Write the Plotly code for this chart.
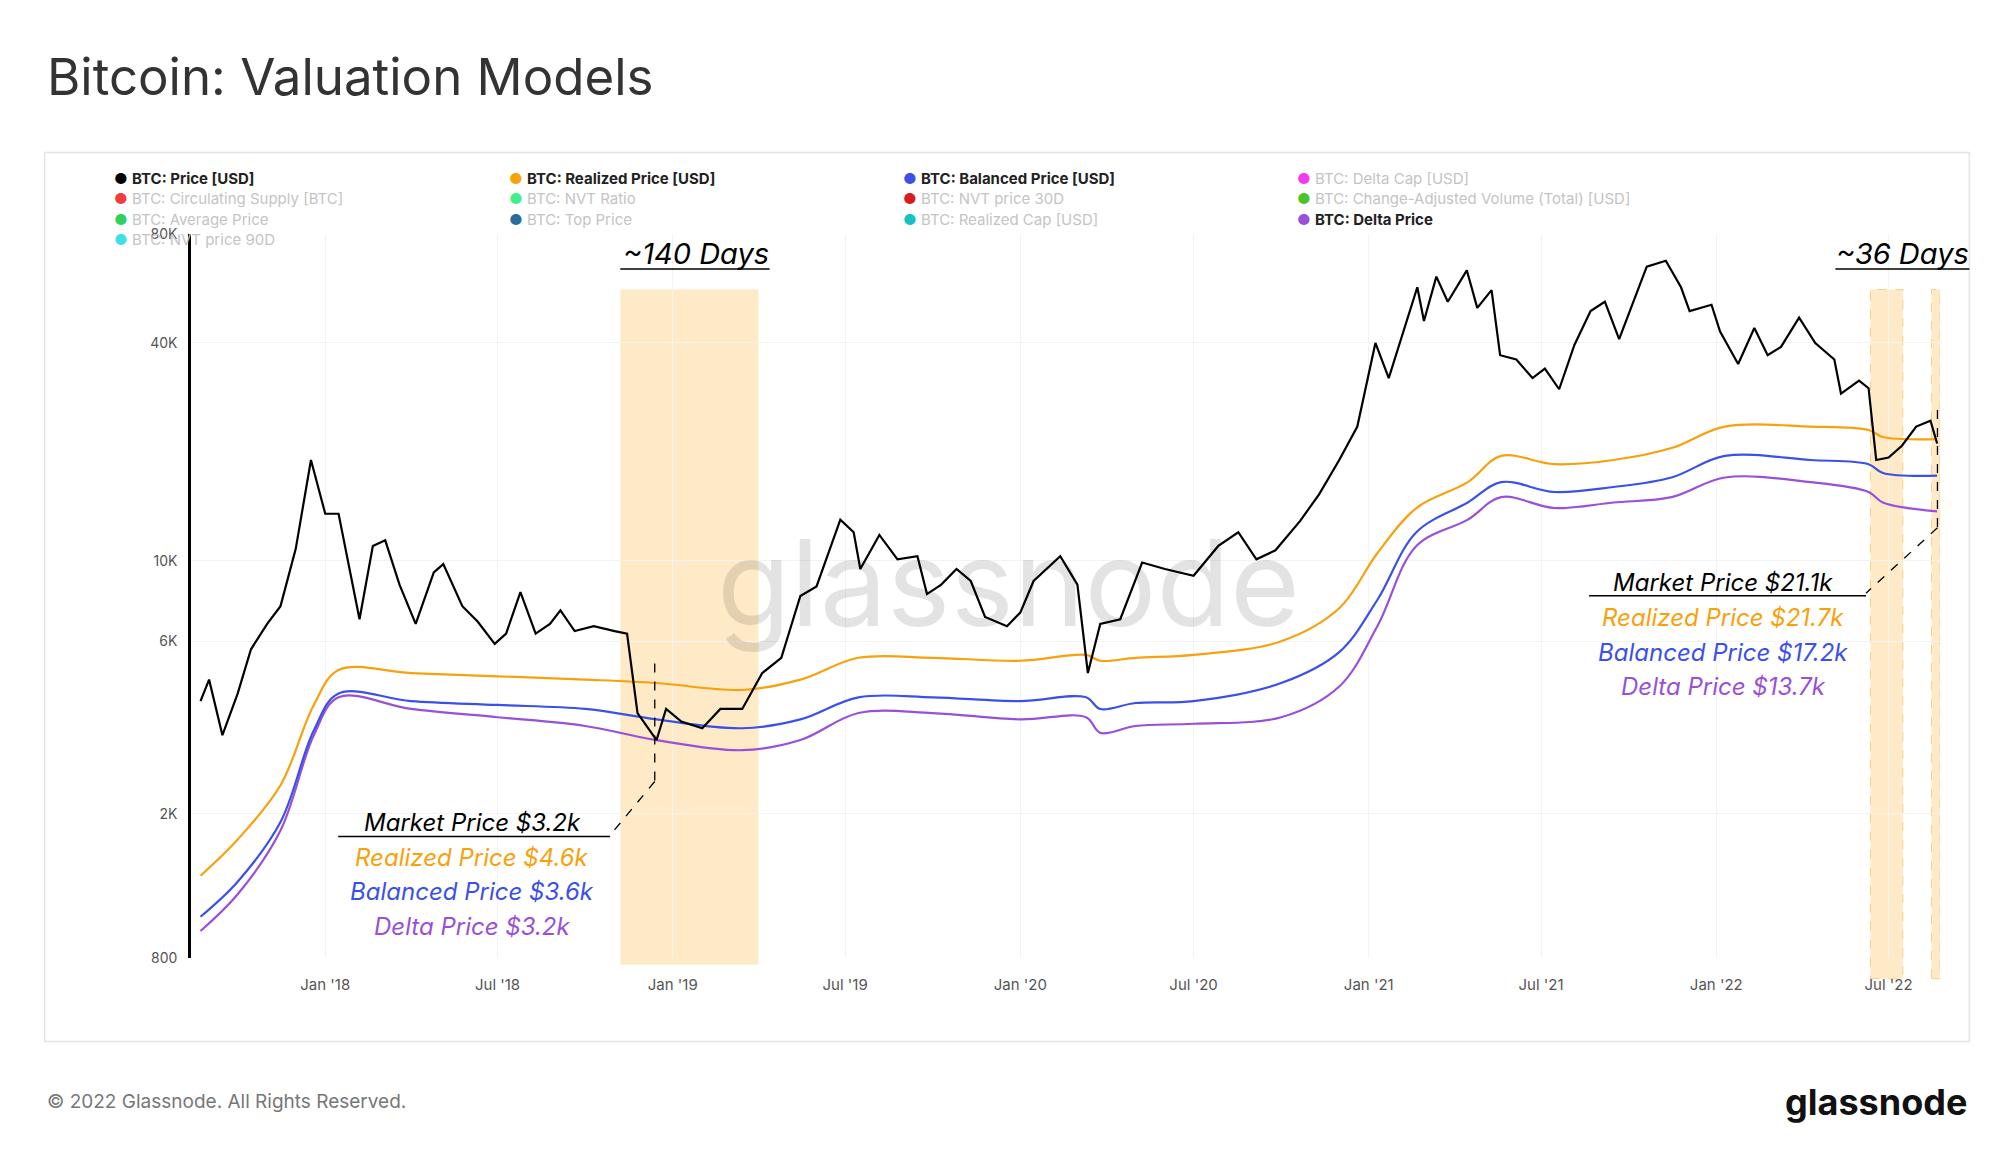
import plotly.graph_objects as go

price_dates = ["2017-08-23","2017-09-01","2017-09-15","2017-10-01","2017-10-15","2017-11-01","2017-11-15","2017-12-01","2017-12-17","2018-01-01","2018-01-15","2018-02-06","2018-02-20","2018-03-05","2018-03-20","2018-04-06","2018-04-25","2018-05-05","2018-05-25","2018-06-10","2018-06-28","2018-07-10","2018-07-25","2018-08-10","2018-08-25","2018-09-05","2018-09-20","2018-10-10","2018-11-01","2018-11-14","2018-11-25","2018-12-15","2018-12-25","2019-01-10","2019-02-01","2019-02-20","2019-03-15","2019-04-05","2019-04-25","2019-05-15","2019-06-01","2019-06-26","2019-07-10","2019-07-17","2019-08-06","2019-08-25","2019-09-15","2019-09-25","2019-10-10","2019-10-26","2019-11-10","2019-11-25","2019-12-18","2020-01-01","2020-01-15","2020-02-12","2020-03-01","2020-03-12","2020-03-25","2020-04-15","2020-05-08","2020-06-01","2020-07-01","2020-07-27","2020-08-17","2020-09-05","2020-09-25","2020-10-21","2020-11-10","2020-12-01","2020-12-20","2021-01-08","2021-01-22","2021-02-10","2021-02-21","2021-02-28","2021-03-13","2021-03-25","2021-04-14","2021-04-25","2021-05-10","2021-05-19","2021-06-05","2021-06-22","2021-07-05","2021-07-20","2021-08-05","2021-08-22","2021-09-06","2021-09-21","2021-10-05","2021-10-20","2021-11-09","2021-11-25","2021-12-04","2021-12-27","2022-01-05","2022-01-24","2022-02-10","2022-02-24","2022-03-10","2022-03-29","2022-04-15","2022-05-05","2022-05-12","2022-05-31","2022-06-10","2022-06-18","2022-07-01","2022-07-15","2022-07-30","2022-08-14","2022-08-21"]
price_usd = [4100,4700,3300,4300,5700,6700,7500,10800,19000,13500,13500,6900,11000,11400,8600,6700,9300,9800,7500,6800,5900,6300,8200,6300,6700,7300,6400,6600,6400,6300,3800,3200,3900,3600,3450,3900,3900,4900,5400,8000,8500,13000,12000,9500,11800,10100,10300,8100,8600,9500,8800,7000,6600,7200,8800,10300,8600,4900,6700,6900,9900,9500,9100,11000,12000,10100,10700,12900,15300,19000,23500,40000,32000,46000,57000,46000,61000,52000,63500,50000,56000,37000,36000,32000,34000,29800,39500,49000,52000,41000,51000,65000,67500,57000,49000,51000,43000,35000,44000,37000,39000,47000,40000,36000,29000,31500,30000,19000,19300,20800,23500,24400,21100]

model_dates = ["2017-08-23","2017-10-01","2017-11-15","2017-12-20","2018-01-15","2018-04-01","2018-07-01","2018-10-01","2018-12-15","2019-03-15","2019-05-15","2019-07-15","2019-10-01","2020-01-01","2020-03-10","2020-03-25","2020-05-01","2020-07-01","2020-10-01","2020-12-01","2021-01-10","2021-02-20","2021-04-15","2021-05-20","2021-07-15","2021-09-15","2021-11-15","2022-01-10","2022-04-10","2022-06-10","2022-06-25","2022-08-21"]
realized_usd = [1350,1700,2400,4000,5000,4900,4800,4700,4600,4400,4700,5400,5400,5300,5500,5300,5400,5500,6000,7400,10500,14000,16500,19500,18500,19000,20500,23500,23500,23000,22000,21700]
balanced_usd = [1040,1300,1900,3400,4300,4100,4000,3900,3650,3450,3650,4200,4200,4100,4200,3900,4050,4100,4600,5600,7800,12000,14500,16500,15500,16000,17000,19500,19000,18500,17500,17200]
delta_usd = [950,1200,1800,3300,4200,3900,3700,3500,3200,3000,3200,3800,3800,3650,3700,3350,3500,3550,3700,4500,6600,11000,13000,15000,14000,14500,15000,17000,16500,15500,14500,13700]

legend_items = [
    ("BTC: Price [USD]", "#000000", True), ("BTC: Realized Price [USD]", "#f7a10d", True),
    ("BTC: Balanced Price [USD]", "#3b50e8", True), ("BTC: Delta Cap [USD]", "#f03cf0", False),
    ("BTC: Circulating Supply [BTC]", "#ef3e3e", False), ("BTC: NVT Ratio", "#3ef08a", False),
    ("BTC: NVT price 30D", "#d81b1b", False), ("BTC: Change-Adjusted Volume (Total) [USD]", "#4cc22b", False),
    ("BTC: Average Price", "#2ed060", False), ("BTC: Top Price", "#276e9c", False),
    ("BTC: Realized Cap [USD]", "#14c2c2", False), ("BTC: Delta Price", "#9a4fd8", True),
    ("BTC: NVT price 90D", "#3ee0e6", False),
]

W, H = 2000, 1153
sx = W / 1567
sy = H / 900
OFF = 8
L, R = round(150 * sx) - OFF, round(1520 * sx) - OFF
T, B = round(183 * sy) - OFF, round(748 * sy) - OFF

def px(xd, yd):
    return (xd * sx - OFF - L) / (R - L), (B - (yd * sy - OFF)) / (B - T)

fig = go.Figure()
fig.add_trace(go.Scatter(x=model_dates, y=delta_usd, mode="lines", line=dict(color="#9a4fd8", width=2.2, shape="spline")))
fig.add_trace(go.Scatter(x=model_dates, y=balanced_usd, mode="lines", line=dict(color="#3b50e8", width=2.2, shape="spline")))
fig.add_trace(go.Scatter(x=model_dates, y=realized_usd, mode="lines", line=dict(color="#f7a10d", width=2.2, shape="spline")))
fig.add_trace(go.Scatter(x=price_dates, y=price_usd, mode="lines", line=dict(color="#000000", width=2.2)))

shapes = []
y0b = px(0, 753)[1]; y1b = px(0, 226)[1]
shapes.append(dict(type="rect", xref="x", yref="paper", x0="2018-11-07", x1="2019-04-01", y0=y0b, y1=y1b,
                   fillcolor="rgba(253,220,160,0.6)", line=dict(width=0), layer="below"))
shapes.append(dict(type="rect", xref="x", yref="paper", x0="2022-06-12", x1="2022-07-16", y0=px(0, 764)[1], y1=y1b,
                   fillcolor="rgba(253,220,160,0.6)", line=dict(width=1, color="rgba(247,180,80,0.6)", dash="dash"), layer="below"))
shapes.append(dict(type="rect", xref="x", yref="paper", x0="2022-08-15", x1="2022-08-24", y0=px(0, 764)[1], y1=y1b,
                   fillcolor="rgba(253,220,160,0.6)", line=dict(width=1, color="rgba(247,180,80,0.6)", dash="dash"), layer="below"))

def seg(a, b, dash=None, w=1.3):
    (x0, y0), (x1, y1) = px(*a), px(*b)
    shapes.append(dict(type="line", xref="paper", yref="paper", x0=x0, y0=y0, x1=x1, y1=y1,
                       line=dict(color="black", width=w, dash=dash)))

seg((513, 518), (513, 610), "dash"); seg((513, 610), (478, 652), "dash"); seg((265, 653), (478, 653), None, 1.6)
seg((1518, 320), (1518, 412), "dash"); seg((1518, 412), (1462, 463), "dash"); seg((1245, 465), (1462, 465), None, 1.6)
seg((486, 210), (603, 210), None, 1.6); seg((1438, 210), (1543, 210), None, 1.6)
bx0, by0 = px(35, 119); bx1, by1 = px(1543, 813)
shapes.append(dict(type="rect", xref="paper", yref="paper", x0=bx0, y0=by0, x1=bx1, y1=by1,
                   line=dict(color="#e4e4e4", width=1.5), layer="below"))

ann = []
def text(xd, yd, t, size, color, xanchor="center", italic=False, family="Inter"):
    x, y = px(xd, yd)
    if italic:
        t = "<i>" + t + "</i>"
    ann.append(dict(xref="paper", yref="paper", x=x, y=y, text=t, showarrow=False, xanchor=xanchor, yanchor="middle",
                    font=dict(size=size, color=color, family=family)))

text(790, 455, "glassnode", 120, "rgba(0,0,0,0.11)")
text(545, 198, "~140 Days", 29, "black", italic=True)
text(1491, 198, "~36 Days", 29, "black", italic=True)
for i, (t, c) in enumerate([("Market Price $3.2k", "black"), ("Realized Price $4.6k", "#f7a10d"),
                            ("Balanced Price $3.6k", "#3b50e8"), ("Delta Price $3.2k", "#9a4fd8")]):
    text(370, 642 + 27 * i, t, 24, c, italic=True)
for i, (t, c) in enumerate([("Market Price $21.1k", "black"), ("Realized Price $21.7k", "#f7a10d"),
                            ("Balanced Price $17.2k", "#3b50e8"), ("Delta Price $13.7k", "#9a4fd8")]):
    text(1350, 455 + 27 * i, t, 24, c, italic=True)
text(35, 60, "Bitcoin: Valuation Models", 51, "#333333", xanchor="left")
text(35, 860, "© 2022 Glassnode. All Rights Reserved.", 19, "#777777", xanchor="left")
text(1543, 860, "<b>glassnode</b>", 36, "#111111", xanchor="right")
cols = [92, 401, 710, 1019]
for i, (t, c, active) in enumerate(legend_items):
    r, k = divmod(i, 4)
    tc = "#222222" if active else "#c4c4c4"
    lbl = f"<span style='color:{c}'>●</span> " + (f"<b>{t}</b>" if active else t)
    text(cols[k] - 4, 139 + 16 * r, lbl, 15, tc, xanchor="left")

fig.update_layout(
    width=W, height=H, margin=dict(l=L, r=W - R, t=T, b=H - B),
    paper_bgcolor="white", plot_bgcolor="white", showlegend=False,
    shapes=shapes, annotations=ann, font=dict(family="Inter"),
    xaxis=dict(range=["2017-08-13", "2022-08-24"], showgrid=True, gridcolor="#f3f3f3",
               tickvals=["2018-01-01","2018-07-01","2019-01-01","2019-07-01","2020-01-01","2020-07-01","2021-01-01","2021-07-01","2022-01-01","2022-07-01"],
               ticktext=["Jan '18","Jul '18","Jan '19","Jul '19","Jan '20","Jul '20","Jan '21","Jul '21","Jan '22","Jul '22"],
               tickfont=dict(size=15, color="#555"), ticks="", showline=False, zeroline=False, ticklabelstandoff=16),
    yaxis=dict(type="log", range=[2.90309, 4.90309], tickvals=[800, 2000, 6000, 10000, 40000, 80000],
               ticktext=["800", "2K", "6K", "10K", "40K", "80K"], tickfont=dict(size=14, color="#555"),
               showline=True, linecolor="black", linewidth=2.5, showgrid=True, gridcolor="#f3f3f3", ticks="", ticklabelstandoff=8),
)
fig.write_html("out.html")
